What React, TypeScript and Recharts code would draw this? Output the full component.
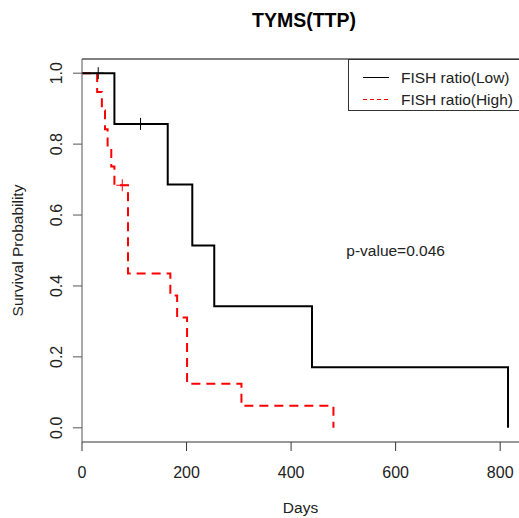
import {
  ComposedChart,
  Line,
  Scatter,
  XAxis,
  YAxis,
  Legend,
  ReferenceLine,
  ReferenceDot
} from 'recharts'

// Kaplan-Meier steps (days, survival)
const lowDays = [0, 62, 164, 211, 253, 440, 815]
const lowSurv = [1.0, 0.857, 0.686, 0.514, 0.343, 0.171, 0.0]
const highDays = [0, 29, 38, 44, 49, 56, 62, 88, 169, 182, 201, 305, 481]
const highSurv = [1.0, 0.947, 0.895, 0.842, 0.789, 0.737, 0.684, 0.435, 0.373, 0.311, 0.124, 0.062, 0.0]

// censored observations
const lowCensorDays = [31, 112]
const lowCensorSurv = [1.0, 0.857]
const highCensorDays = [77]
const highCensorSurv = [0.684]

const xTicks = [0, 200, 400, 600, 800]
const yTicks = [0, 0.2, 0.4, 0.6, 0.8, 1.0]
const seriesNames = ['FISH ratio(Low)', 'FISH ratio(High)']

const FONT = '"Liberation Sans", Arial, sans-serif'

const toRows = (days: number[], surv: number[]) => days.map((d, i) => ({ day: d, surv: surv[i] }))

const lowData = toRows(lowDays, lowSurv)
const highData = toRows(highDays, highSurv)
const lowCensor = toRows(lowCensorDays, lowCensorSurv)
const highCensor = toRows(highCensorDays, highCensorSurv)

const plusShape = (color: string) => (props: any) => {
  const { cx, cy } = props
  const h = 6
  return (
    <path
      d={`M${cx - h},${cy}H${cx + h}M${cx},${cy - h}V${cy + h}`}
      stroke={color}
      strokeWidth={1}
      fill="none"
    />
  )
}

const YTick = (props: any) => {
  const { x, y, payload } = props
  const tx = x - 11
  return (
    <text
      x={tx}
      y={y}
      transform={`rotate(-90, ${tx}, ${y})`}
      textAnchor="middle"
      fontSize={16}
      fontFamily={FONT}
      fill="#222"
    >
      {payload.value.toFixed(1)}
    </text>
  )
}

const LegendBox = () => (
  <svg width={180} height={53} style={{ display: 'block' }}>
    <rect x={0.5} y={0.5} width={200} height={51} fill="#fff" stroke="#333" />
    <line x1={15} x2={41} y1={18.5} y2={18.5} stroke="#000" strokeWidth={1} />
    <line x1={15} x2={42} y1={40.5} y2={40.5} stroke="#ff0000" strokeWidth={1} strokeDasharray="4 3" />
    <text x={53} y={24} fontSize={15.5} fontFamily={FONT} fill="#222">{seriesNames[0]}</text>
    <text x={53} y={46} fontSize={15.5} fontFamily={FONT} fill="#222">{seriesNames[1]}</text>
  </svg>
)

export default function App() {
  return (
    <div style={{ position: 'absolute', left: 0, top: 0, width: 519, height: 518, overflow: 'hidden', background: '#fff' }}>
      <div
        style={{
          position: 'absolute',
          left: 0,
          width: 608,
          top: 11,
          textAlign: 'center',
          fontFamily: FONT,
          fontWeight: 'bold',
          fontSize: 19.5,
          lineHeight: '19.5px',
          color: '#000'
        }}
      >
        TYMS(TTP)
      </div>
      <ComposedChart width={519} height={518} margin={{ top: 59, right: 0, bottom: 0, left: 0 }}>
        <XAxis
          type="number"
          dataKey="day"
          domain={[0, 836]}
          ticks={xTicks}
          allowDataOverflow
          height={76}
          tickSize={9}
          tickMargin={16}
          stroke="#333"
          tick={{ fontSize: 16, fontFamily: FONT, fill: '#222' }}
          label={{
            content: (p: any) => (
              <text
                x={p.viewBox.x + p.viewBox.width / 2}
                y={p.viewBox.y + 71}
                textAnchor="middle"
                fontSize={15.5}
                fontFamily={FONT}
                fill="#222"
              >
                Days
              </text>
            )
          }}
        />
        <YAxis
          type="number"
          dataKey="surv"
          domain={[-0.04, 1.04]}
          ticks={yTicks}
          allowDataOverflow
          width={82}
          tickSize={9}
          tickMargin={0}
          stroke="#555"
          tick={<YTick />}
          label={{
            content: (p: any) => {
              const cx = 23
              const cy = p.viewBox.y + p.viewBox.height / 2
              return (
                <text
                  x={cx}
                  y={cy}
                  transform={`rotate(-90, ${cx}, ${cy})`}
                  textAnchor="middle"
                  fontSize={15.5}
                  fontFamily={FONT}
                  fill="#222"
                >
                  Survival Probability
                </text>
              )
            }
          }}
        />
        <ReferenceLine y={1.04} stroke="#000" strokeWidth={1} ifOverflow="extendDomain" />
        <Line
          data={highData}
          dataKey="surv"
          type="stepAfter"
          stroke="#ff0000"
          strokeWidth={2}
          strokeDasharray="9 6"
          dot={false}
          isAnimationActive={false}
        />
        <Line
          data={lowData}
          dataKey="surv"
          type="stepAfter"
          stroke="#000"
          strokeWidth={2}
          dot={false}
          isAnimationActive={false}
        />
        <Scatter data={lowCensor} dataKey="surv" shape={plusShape('#000')} isAnimationActive={false} />
        <Scatter data={highCensor} dataKey="surv" shape={plusShape('#ff0000')} isAnimationActive={false} />
        <ReferenceDot
          x={600}
          y={0.5}
          r={0}
          fill="none"
          stroke="none"
          label={{ value: 'p-value=0.046', position: 'center', fontSize: 15.5, fontFamily: FONT, fill: '#222' }}
        />
        <Legend
          layout="horizontal"
          verticalAlign="middle"
          align="center"
          content={() => <LegendBox />}
          wrapperStyle={{ position: 'absolute', left: 348, top: 59, width: 180, height: 53 }}
        />
      </ComposedChart>
    </div>
  )
}
